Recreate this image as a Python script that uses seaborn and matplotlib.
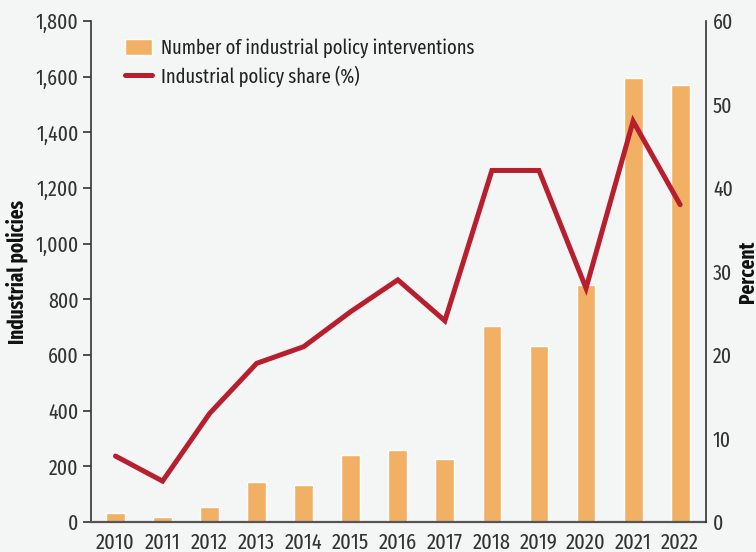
import numpy as np
import pandas as pd
import matplotlib
matplotlib.use("Agg")
import matplotlib.pyplot as plt
import seaborn as sns
from matplotlib.ticker import FuncFormatter, MultipleLocator

years = ["2010", "2011", "2012", "2013", "2014", "2015", "2016",
         "2017", "2018", "2019", "2020", "2021", "2022"]
interventions = [32, 17, 54, 143, 133, 241, 259, 226, 704, 632, 851, 1594, 1569]
share_pct = [7.9, 4.9, 13.0, 19.0, 21.0, 25.2, 29.0, 24.1, 42.1, 42.1, 28.0, 48.0, 38.0]

bar_color = "#F2B064"
line_color = "#B71F2E"
bg = "#F4F6F6"
text_color = "#333333"

sns.set_theme(style="white")
plt.rcParams["font.family"] = ["Fira Sans Extra Condensed", "Fira Sans Condensed",
                               "Asap Condensed", "DejaVu Sans"]

df = pd.DataFrame({"year": years, "count": interventions, "share": share_pct})
df["pos"] = np.arange(len(years))

fig = plt.figure(figsize=(7.56, 5.52), dpi=100, facecolor=bg)
ax = fig.add_axes([0.1204, 0.0543, 0.8135, 0.9077])
ax.set_facecolor(bg)

sns.barplot(data=df, x="year", y="count", color=bar_color, width=0.4,
            saturation=1, ax=ax, label="Number of industrial policy interventions")
if ax.get_legend():
    ax.get_legend().remove()
ax.set_xlim(-0.52, 12.55)
ax.set_ylim(0, 1800)
ax.yaxis.set_major_locator(MultipleLocator(200))
ax.yaxis.set_major_formatter(FuncFormatter(lambda v, p: f"{int(v):,}"))

ax2 = ax.twinx()
sns.lineplot(data=df, x="pos", y="share", color=line_color, linewidth=3.6,
             ax=ax2, label="Industrial policy share (%)",
             solid_capstyle="round", solid_joinstyle="miter")
ax2.set_ylim(0, 60)
ax2.yaxis.set_major_locator(MultipleLocator(10))
ax2.set_xlim(-0.52, 12.55)

for a in (ax, ax2):
    for s in a.spines.values():
        s.set_visible(False)
ax.spines["left"].set_visible(True)
ax.spines["left"].set_color(text_color)
ax.spines["left"].set_linewidth(1.2)
ax.spines["bottom"].set_visible(True)
ax.spines["bottom"].set_color("#555555")
ax.spines["bottom"].set_linewidth(1.6)
ax2.spines["right"].set_visible(True)
ax2.spines["right"].set_color(text_color)
ax2.spines["right"].set_linewidth(1.2)

ax.tick_params(axis="y", which="major", left=True, length=6, width=1.2,
               color=text_color, labelsize=15.5, labelcolor=text_color, pad=3)
ax.tick_params(axis="x", bottom=False, labelsize=16, labelcolor=text_color, pad=1)
ax2.tick_params(axis="y", right=False, length=0, labelsize=15.5,
                labelcolor=text_color, pad=5)

ax.set_xlabel("")
ax.set_ylabel("Industrial policies", fontsize=15, fontweight="bold", color="#111111")
ax.yaxis.set_label_coords(-0.103, 0.5)
ax2.set_xlabel("")
ax2.set_ylabel("Percent", fontsize=15, fontweight="bold", color="#111111")
ax2.yaxis.set_label_coords(1.05, 0.5)

h1, l1 = ax.get_legend_handles_labels()
h2, l2 = ax2.get_legend_handles_labels()
if ax2.get_legend():
    ax2.get_legend().remove()
leg = ax2.legend(h1 + h2, l1 + l2, loc="upper left", bbox_to_anchor=(0.035, 0.99),
                 frameon=False, fontsize=14.5, handlelength=1.35, handleheight=0.85,
                 labelspacing=0.35, handletextpad=0.45, labelcolor="#222222",
                 borderaxespad=0.2)

fig.savefig("out.png", dpi=100, facecolor=bg)
